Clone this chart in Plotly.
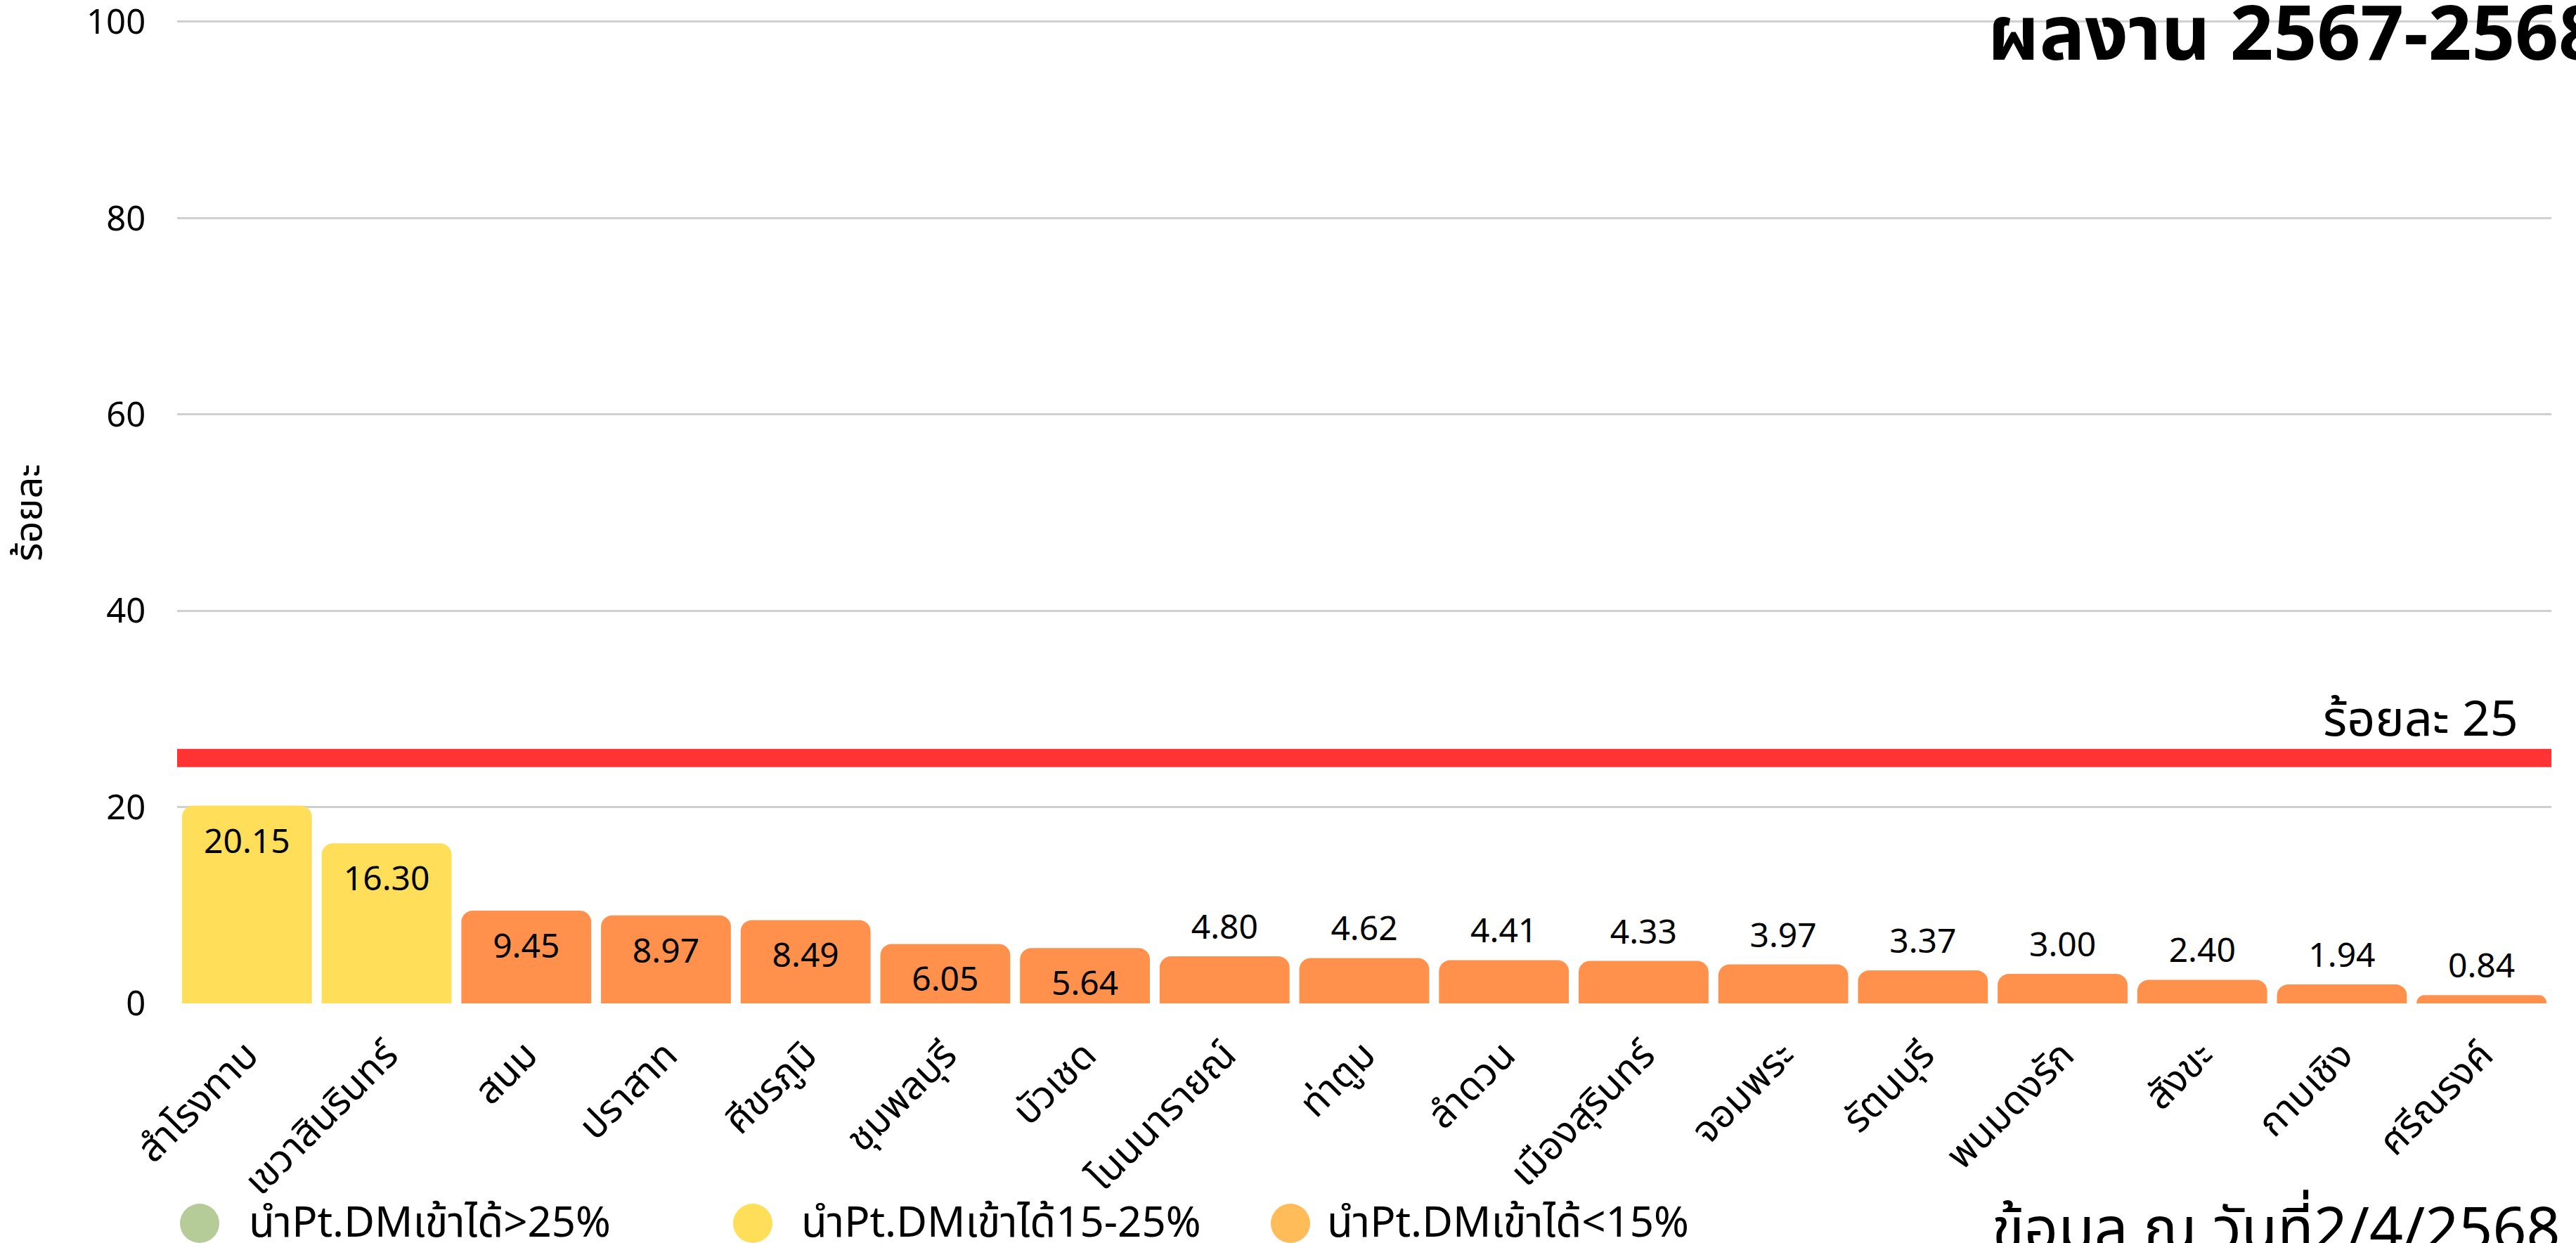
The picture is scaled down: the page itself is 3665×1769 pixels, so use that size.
import plotly.graph_objects as go

# ---------------- data ----------------
districts = ["สำโรงทาบ", "เขวาสินรินทร์", "สนม", "ปราสาท", "ศีขรภูมิ", "ชุมพลบุรี",
             "บัวเชด", "โนนนารายณ์", "ท่าตูม", "ลำดวน", "เมืองสุรินทร์", "จอมพระ",
             "รัตนบุรี", "พนมดงรัก", "สังขะ", "กาบเชิง", "ศรีณรงค์"]
values = [20.15, 16.30, 9.45, 8.97, 8.49, 6.05, 5.64, 4.80, 4.62, 4.41, 4.33,
          3.97, 3.37, 3.00, 2.40, 1.94, 0.84]
target = 25
y_ticks = [0, 20, 40, 60, 80, 100]
legend_labels = ["นำPt.DMเข้าได้>25%", "นำPt.DMเข้าได้15-25%", "นำPt.DMเข้าได้<15%"]
title_text = "ผลงาน 2567-2568"
footer_text = "ข้อมูล ณ วันที่2/4/2568"
yaxis_title = "ร้อยละ"
target_label = "ร้อยละ 25"

# ---------------- styling ----------------
FONT = "Noto Sans Thai, Noto Sans, sans-serif"
GREEN = "#B5CC98"
YELLOW = "#FFDE59"
ORANGE = "#FF914D"
LIGHT_ORANGE = "#FFBC58"
RED = "#FF3333"
CLEAR = "rgba(0,0,0,0)"

W, H = 3665, 1769
Y_MAX = 101
ML, MR, MB = 252, 35, 341
PW = W - ML - MR
# y=100 sits 31 px below the top of the page
PH = round((H - MB - 31) * Y_MAX / 100)
MT = H - MB - PH


def px_x(x):
    return (x - ML) / PW


def px_y(y):
    return (H - MB - y) / PH


def bar_color(v):
    if v >= 25:
        return GREEN
    if v >= 15:
        return YELLOW
    return ORANGE


colors = [bar_color(v) for v in values]
text_pos = ["inside" if v >= 5 else "outside" for v in values]

fig = go.Figure()
fig.add_trace(go.Bar(
    x=districts,
    y=values,
    marker=dict(color=colors, cornerradius=16, line=dict(width=0)),
    text=[f"{v:.2f}" for v in values],
    textposition=text_pos,
    insidetextanchor="end",
    textfont=dict(family=FONT, size=48, color="black"),
    outsidetextfont=dict(family=FONT, size=48, color="black"),
    insidetextfont=dict(family=FONT, size=48, color="black"),
    constraintext="none",
    cliponaxis=False,
    showlegend=False,
))

fig.update_layout(
    width=W, height=H,
    margin=dict(l=ML, r=MR, t=MT, b=MB, autoexpand=False),
    paper_bgcolor="white",
    plot_bgcolor="white",
    bargap=0.07,
    font=dict(family=FONT, size=46, color="black"),
    showlegend=False,
    xaxis=dict(
        tickangle=-45,
        tickfont=dict(family=FONT, size=55, color="black"),
        showgrid=False,
        showline=False,
        ticks="outside",
        ticklen=18,
        tickcolor=CLEAR,
        ticklabeloverflow="allow",
        automargin=False,
    ),
    yaxis=dict(
        range=[0, Y_MAX],
        tickmode="array",
        tickvals=y_ticks,
        ticktext=[str(t) for t in y_ticks],
        showgrid=True,
        gridcolor="#D0D0D0",
        gridwidth=3,
        zeroline=False,
        showline=False,
        ticks="outside",
        ticklen=34,
        tickcolor=CLEAR,
        ticklabeloverflow="allow",
        automargin=False,
        tickfont=dict(family=FONT, size=49, color="black"),
    ),
)

# target line
fig.add_shape(type="line", xref="paper", yref="y", x0=0, x1=1, y0=target, y1=target,
              line=dict(color=RED, width=26), layer="above")
fig.add_annotation(xref="paper", yref="y", x=px_x(3585), y=target + 3.8,
                   text=target_label, showarrow=False, xanchor="right", yanchor="middle",
                   font=dict(family=FONT, size=70, color="black"))

# y-axis title
fig.add_annotation(xref="paper", yref="paper", x=px_x(42), y=px_y(730), text=yaxis_title,
                   textangle=-90, showarrow=False, xanchor="center", yanchor="middle",
                   font=dict(family=FONT, size=54, color="black"))

# title (top right, runs to the page edge as in the original)
fig.add_annotation(xref="paper", yref="paper", x=px_x(2826), y=px_y(52), text=f"<b>{title_text}</b>",
                   showarrow=False, xanchor="left", yanchor="middle",
                   font=dict(family=FONT, size=108, color="black"))

# footer
fig.add_annotation(xref="paper", yref="paper", x=px_x(2832), y=px_y(1752), text=footer_text,
                   showarrow=False, xanchor="left", yanchor="middle",
                   font=dict(family=FONT, size=84, color="black"))

# custom legend
legend_colors = [GREEN, YELLOW, LIGHT_ORANGE]
circle_x = [284, 1071, 1836]
text_x = [352, 1138, 1886]
leg_y = 1741
for lab, col, cx, tx in zip(legend_labels, legend_colors, circle_x, text_x):
    fig.add_shape(type="circle", xref="paper", yref="paper",
                  xsizemode="pixel", ysizemode="pixel",
                  xanchor=px_x(cx), yanchor=px_y(leg_y),
                  x0=-28, x1=28, y0=-28, y1=28,
                  fillcolor=col, line=dict(width=0))
    fig.add_annotation(xref="paper", yref="paper", x=px_x(tx), y=px_y(leg_y), text=lab,
                       showarrow=False, xanchor="left", yanchor="middle",
                       font=dict(family=FONT, size=60, color="black"))

fig.write_html("out.html", config={"displayModeBar": False},
               post_script="document.body.style.margin='0';document.body.style.overflow='hidden';")
